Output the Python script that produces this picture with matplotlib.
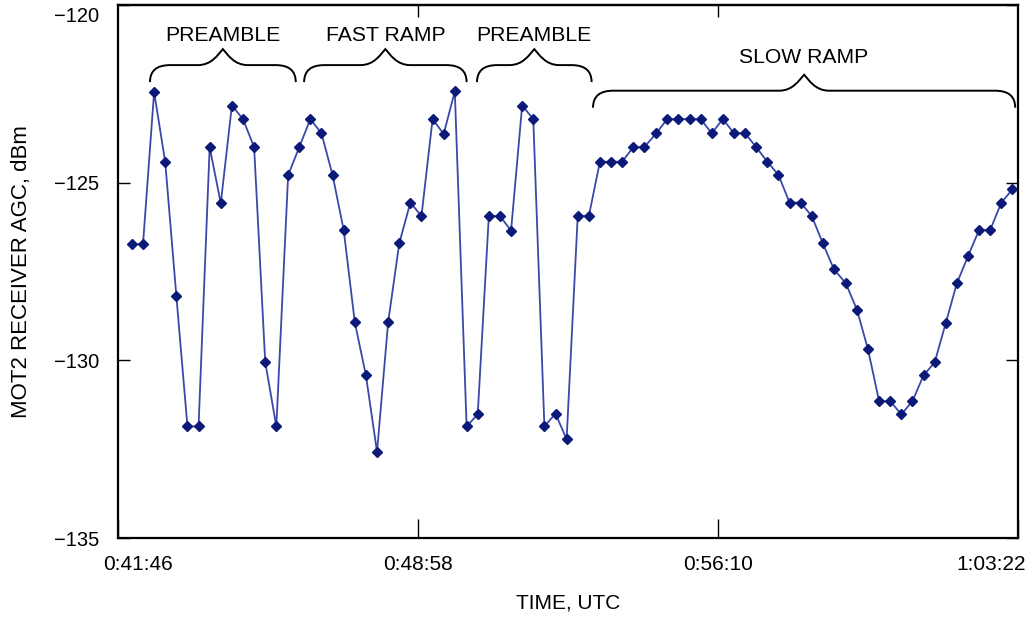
import matplotlib
matplotlib.use("Agg")
import matplotlib.pyplot as plt
from matplotlib.path import Path
from matplotlib.patches import PathPatch
from matplotlib.transforms import IdentityTransform, ScaledTranslation

plt.rcParams['font.family'] = ['Liberation Sans', 'DejaVu Sans']

# AGC samples, one roughly every 16 s
sample_times = [
    "0:42:06", "0:42:22", "0:42:38", "0:42:54", "0:43:10", "0:43:26", "0:43:42", "0:43:58",
    "0:44:14", "0:44:30", "0:44:46", "0:45:02", "0:45:18", "0:45:34", "0:45:51", "0:46:07",
    "0:46:23", "0:46:39", "0:46:55", "0:47:11", "0:47:27", "0:47:43", "0:47:59", "0:48:15",
    "0:48:31", "0:48:47", "0:49:03", "0:49:19", "0:49:35", "0:49:51", "0:50:08", "0:50:24",
    "0:50:40", "0:50:56", "0:51:12", "0:51:28", "0:51:44", "0:52:00", "0:52:16", "0:52:32",
    "0:52:48", "0:53:04", "0:53:20", "0:53:36", "0:53:52", "0:54:08", "0:54:24", "0:54:41",
    "0:54:57", "0:55:13", "0:55:29", "0:55:45", "0:56:01", "0:56:17", "0:56:33", "0:56:49",
    "0:57:05", "0:57:21", "0:57:37", "0:57:53", "0:58:09", "0:58:25", "0:58:41", "0:58:57",
    "0:59:14", "0:59:30", "0:59:46", "1:00:02", "1:00:18", "1:00:34", "1:00:50", "1:01:06",
    "1:01:22", "1:01:38", "1:01:54", "1:02:10", "1:02:26", "1:02:42", "1:02:58", "1:03:14",
]
agc_dbm = [
    -126.73, -126.73, -122.45, -124.42, -128.18, -131.86, -131.86, -124.00,
    -125.58, -122.83, -123.21, -124.00, -130.05, -131.86, -124.79, -124.00,
    -123.21, -123.61, -124.79, -126.33, -128.93, -130.42, -132.58, -128.93,
    -126.71, -125.56, -125.94, -123.21, -123.63, -122.43, -131.86, -131.52,
    -125.94, -125.94, -126.35, -122.83, -123.21, -131.86, -131.50, -132.22,
    -125.94, -125.94, -124.41, -124.41, -124.41, -124.00, -124.00, -123.61,
    -123.21, -123.21, -123.21, -123.21, -123.61, -123.21, -123.61, -123.61,
    -124.00, -124.41, -124.78, -125.56, -125.56, -125.94, -126.71, -127.44,
    -127.83, -128.57, -129.69, -131.15, -131.15, -131.52, -131.15, -130.42,
    -130.06, -128.95, -127.83, -127.07, -126.33, -126.33, -125.56, -125.19,
]

x_ticks = ["0:41:46", "0:48:58", "0:56:10", "1:03:22"]
y_ticks = [-120, -125, -130, -135]
y_tick_labels = ["\u2212120", "\u2212125", "\u2212130", "\u2212135"]

# bracketed test segments: label, start, end, brace tip level, label level
seg_names = ["PREAMBLE", "FAST RAMP", "PREAMBLE", "SLOW RAMP"]
seg_start = ["0:42:32", "0:46:14", "0:50:23", "0:53:10"]
seg_end = ["0:46:02", "0:50:08", "0:53:08", "1:03:18"]
seg_tip = [-122.17, -122.17, -122.17, -122.89]
seg_text = [-120.86, -120.86, -120.86, -121.47]


def to_sec(s):
    h, m, sec = s.split(":")
    return int(h) * 3600 + int(m) * 60 + int(sec)


t = [to_sec(s) for s in sample_times]
xt = [to_sec(s) for s in x_ticks]

fig = plt.figure(figsize=(10.32, 6.23), dpi=100)
ax = fig.add_axes([118 / 1032, 1 - 538 / 623, 900 / 1032, 533 / 623])

ax.plot(t, agc_dbm, color='#3a48a8', lw=1.3, zorder=2)
ax.plot(t, agc_dbm, ls='none', marker='D', ms=4.8, color='#0b1a78', zorder=3)

ax.set_xlim(xt[0], xt[-1])
ax.set_ylim(-135, -120)
ax.set_xticks(xt)
ax.set_xticklabels(x_ticks)
ax.set_yticks(y_ticks)
ax.set_yticklabels(y_tick_labels)

for sp in ax.spines.values():
    sp.set_linewidth(1.6)

ax.tick_params(axis='y', direction='in', length=8.6, width=1.0, pad=13.5,
               labelsize=14.5, right=True)
ax.tick_params(axis='x', direction='in', length=14, width=1.0, pad=12,
               labelsize=15)

top = ax.secondary_xaxis('top')
top.set_xticks(xt[1:-1])
top.tick_params(direction='in', length=8.6, width=1.0, labeltop=False)
top.spines['top'].set_linewidth(1.6)

# nudge the end labels inward
xl = ax.get_xticklabels()
xl[0].set_transform(xl[0].get_transform() + ScaledTranslation(20 / 100, 0, fig.dpi_scale_trans))
xl[-1].set_transform(xl[-1].get_transform() + ScaledTranslation(-27 / 100, 0, fig.dpi_scale_trans))
yl = ax.get_yticklabels()
yl[0].set_transform(yl[0].get_transform() + ScaledTranslation(0, -9 / 100, fig.dpi_scale_trans))

ax.set_xlabel("TIME, UTC", fontsize=15, labelpad=14)
ax.set_ylabel("MOT2 RECEIVER AGC, dBm", fontsize=16, labelpad=16)


def brace(x0, x1, y_tip, rise=17, peak=33, r=20, w=25):
    # curly brace drawn in pixel space above the given span
    X0, Yt = ax.transData.transform((x0, y_tip))
    X1, _ = ax.transData.transform((x1, y_tip))
    Xm = (X0 + X1) / 2
    Yf = Yt + rise
    Yp = Yt + peak
    verts = [
        (X0, Yt), (X0, Yf), (X0 + r, Yf),
        (Xm - w, Yf),
        (Xm - 0.45 * w, Yf), (Xm - 0.2 * w, Yp - 0.35 * (Yp - Yf)), (Xm, Yp),
        (Xm + 0.2 * w, Yp - 0.35 * (Yp - Yf)), (Xm + 0.45 * w, Yf), (Xm + w, Yf),
        (X1 - r, Yf),
        (X1, Yf), (X1, Yt),
    ]
    codes = [Path.MOVETO, Path.CURVE3, Path.CURVE3, Path.LINETO,
             Path.CURVE4, Path.CURVE4, Path.CURVE4,
             Path.CURVE4, Path.CURVE4, Path.CURVE4,
             Path.LINETO, Path.CURVE3, Path.CURVE3]
    fig.add_artist(PathPatch(Path(verts, codes), transform=IdentityTransform(),
                             fill=False, lw=1.4, edgecolor='black'))


for name, s0, s1, yb, ytx in zip(seg_names, seg_start, seg_end, seg_tip, seg_text):
    a, b = to_sec(s0), to_sec(s1)
    brace(a, b, yb)
    ax.text((a + b) / 2, ytx, name, ha='center', va='center', fontsize=15.2)

fig.savefig("out.png", dpi=100)
